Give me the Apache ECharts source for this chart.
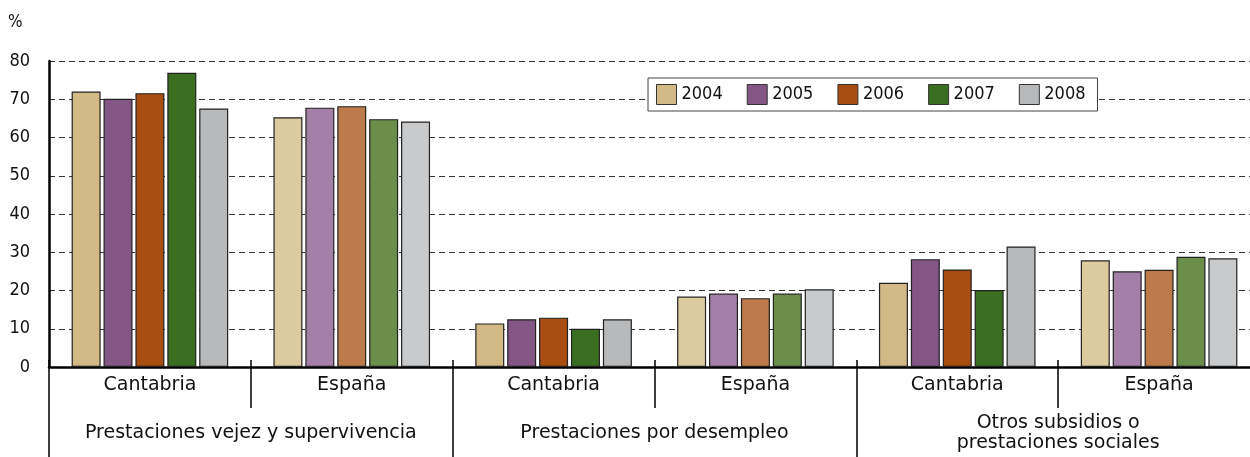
<!DOCTYPE html>
<html>
<head>
<meta charset="utf-8">
<script src="https://cdn.jsdelivr.net/npm/echarts@6/dist/echarts.min.js"></script>
<style>
  html, body { margin: 0; padding: 0; background: #fff; }
  #chart { width: 1250px; height: 457px; }
</style>
</head>
<body>
<div id="chart"></div>
<script>
// data
const regions = ['Cantabria', 'España', 'Cantabria', 'España', 'Cantabria', 'España']
const groups = ['Prestaciones vejez y supervivencia', 'Prestaciones por desempleo', 'Otros subsidios o\nprestaciones sociales']
const years = ['2004', '2005', '2006', '2007', '2008']

const v2004 = [72.0, 65.3, 11.4, 18.4, 22.0, 27.9]
const v2005 = [70.1, 67.8, 12.5, 19.2, 28.2, 25.0]
const v2006 = [71.6, 68.2, 12.9, 18.0, 25.5, 25.4]
const v2007 = [76.9, 64.8, 10.0, 19.2, 20.1, 28.8]
const v2008 = [67.6, 64.2, 12.5, 20.3, 31.5, 28.4]
const values = [v2004, v2005, v2006, v2007, v2008]

// dark shade for Cantabria, light shade for España
const darkColors = ['#d2b986', '#835686', '#a84e12', '#3a6f22', '#b8b9ba']
const lightColors = ['#ddcba0', '#a47fa7', '#bd7a4b', '#6b8f4b', '#c9cacc']

const numFont = 'DejaVu Sans Condensed'
const txtFont = 'DejaVu Sans'

let myChart = echarts.init(document.getElementById('chart'))

let series = years.map((y, i) => ({
  type: 'bar',
  name: y,
  barWidth: 29,
  barGap: '10%',
  itemStyle: {
    color: darkColors[i],
    borderColor: '#222',
    borderWidth: 1.2
  },
  data: values[i].map((v, j) => ({
    value: v,
    itemStyle: { color: j % 2 === 0 ? darkColors[i] : lightColors[i] }
  }))
}))

let option = {
  animation: false,
  backgroundColor: '#fff',
  textStyle: { fontFamily: numFont },
  graphic: [
    { type: 'text', left: 8, top: 14, style: { text: '%', font: '17px "DejaVu Sans Condensed"', fill: '#111' } }
  ],
  legend: {
    left: 648,
    top: 78,
    padding: [6, 12, 6, 8],
    itemWidth: 20,
    itemHeight: 20,
    itemGap: 24,
    backgroundColor: '#fff',
    borderColor: '#444',
    borderWidth: 1,
    borderRadius: 0,
    icon: 'rect',
    itemStyle: { borderColor: '#333', borderWidth: 1 },
    textStyle: { fontSize: 18, color: '#111', fontFamily: numFont },
    data: years
  },
  grid: {
    left: 49,
    top: 61,
    bottom: 90,
    width: 1211,
    outerBoundsMode: 'none'
  },
  xAxis: [
    {
      type: 'category',
      data: regions,
      axisLine: { lineStyle: { color: '#000', width: 2.5 } },
      axisTick: { show: true, interval: 0, length: 41, lineStyle: { color: '#000', width: 1.5 } },
      axisLabel: { interval: 0, fontSize: 19, color: '#111', margin: 9, fontFamily: txtFont }
    },
    {
      type: 'category',
      data: groups,
      position: 'bottom',
      axisLine: { show: false },
      axisTick: { show: true, interval: 0, length: 92, lineStyle: { color: '#000', width: 1.5 } },
      axisLabel: { interval: 0, hideOverlap: false, fontSize: 19, color: '#111', margin: 66, verticalAlign: 'middle', lineHeight: 20, fontFamily: txtFont }
    },
    {
      type: 'category',
      data: regions,
      position: 'bottom',
      axisLine: { show: false },
      axisTick: { show: true, interval: 0, inside: true, length: 7, lineStyle: { color: '#000', width: 1.5 } },
      axisLabel: { show: false }
    }
  ],
  yAxis: {
    type: 'value',
    min: 0,
    max: 80,
    interval: 10,
    axisLine: { show: true, lineStyle: { color: '#000', width: 2.5 } },
    axisTick: { show: false },
    axisLabel: { fontSize: 18, color: '#111', margin: 19, fontFamily: numFont },
    splitLine: { lineStyle: { color: '#333', type: [6, 4], width: 1.2 } }
  },
  series: series
}
myChart.setOption(option)
</script>
</body>
</html>
